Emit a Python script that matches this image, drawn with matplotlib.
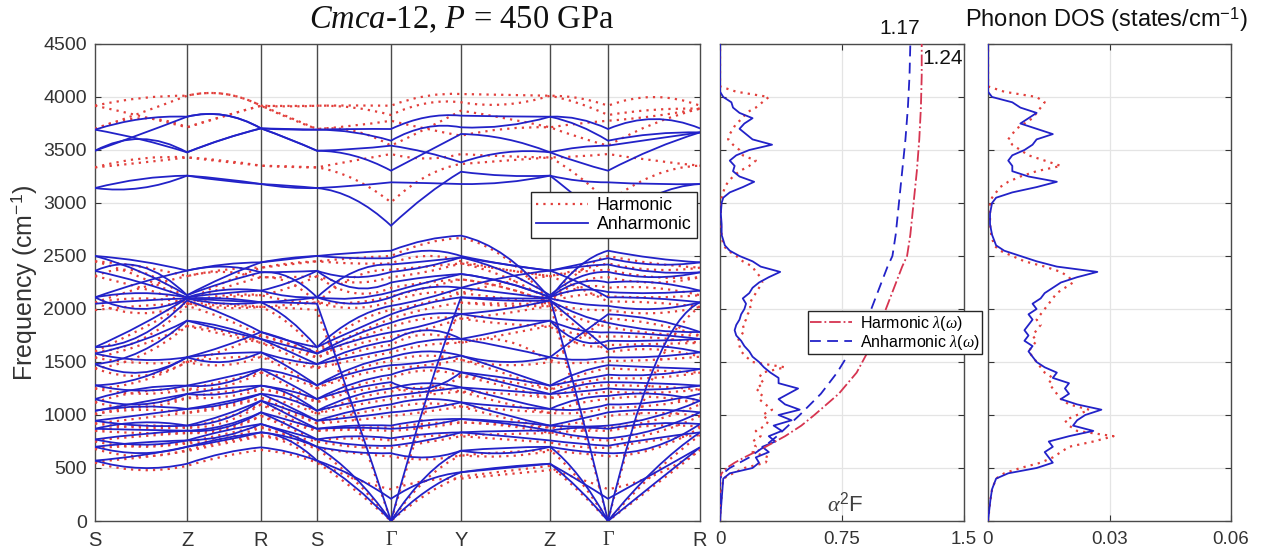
import numpy as np
import matplotlib
matplotlib.use('Agg')
import matplotlib.pyplot as plt
from matplotlib.path import Path
from matplotlib.patches import PathPatch
from matplotlib.lines import Line2D

plt.rcParams['font.family'] = ['Liberation Sans', 'DejaVu Sans']
plt.rcParams['mathtext.fontset'] = 'custom'
plt.rcParams['mathtext.rm'] = 'Liberation Sans'
plt.rcParams['mathtext.sf'] = 'Liberation Sans'
plt.rcParams['mathtext.it'] = 'Liberation Serif:italic'
plt.rcParams['mathtext.bf'] = 'Liberation Sans:bold'

# ---------------- data ----------------
path_labels = ['S', 'Z', 'R', 'S', 'Γ', 'Y', 'Z', 'Γ', 'R']
path_dist = [0, 92, 166, 222, 296, 366, 455, 513, 605]

# band values at [S, mid, Z, mid, R, mid, S, mid, G, mid, Y, mid, Z, mid, G, mid, R]
anh_low = [
    [570, 500, 540, 640, 695, 650, 570, 330, 0, 280, 460, 510, 540, 300, 0, 350, 695],
    [700, 640, 700, 780, 836, 790, 700, 420, 0, 420, 663, 690, 700, 420, 0, 480, 836],
    [2050, 2080, 2100, 2080, 2063, 2060, 2050, 1050, 0, 1150, 2110, 2100, 2100, 1100, 0, 1450, 2063],
    [570, 620, 700, 760, 836, 760, 570, 420, 210, 380, 460, 500, 540, 380, 210, 450, 695],
    [700, 740, 760, 800, 915, 820, 700, 650, 640, 600, 663, 640, 700, 660, 640, 700, 915],
    [770, 720, 760, 850, 915, 840, 770, 720, 710, 760, 836, 800, 760, 730, 710, 780, 836],
    [770, 820, 852, 880, 1025, 900, 770, 800, 780, 820, 836, 850, 852, 800, 780, 860, 1025],
    [870, 860, 852, 900, 1025, 950, 870, 880, 870, 900, 962, 920, 852, 880, 870, 920, 915],
    [870, 930, 900, 960, 1135, 1000, 870, 900, 900, 950, 962, 940, 900, 890, 900, 980, 1135],
    [946, 900, 900, 1000, 1135, 1050, 946, 980, 1025, 1060, 1119, 1000, 900, 960, 1025, 1050, 1025],
    [946, 1000, 1057, 1100, 1200, 1080, 946, 1040, 1100, 1150, 1119, 1080, 1057, 1050, 1100, 1120, 1200],
    [1040, 1080, 1057, 1120, 1200, 1150, 1040, 1120, 1180, 1220, 1260, 1150, 1057, 1150, 1180, 1200, 1135],
    [1040, 1120, 1198, 1200, 1277, 1200, 1040, 1180, 1250, 1300, 1260, 1230, 1198, 1220, 1250, 1240, 1277],
    [1150, 1100, 1198, 1250, 1277, 1230, 1150, 1250, 1310, 1250, 1403, 1300, 1198, 1280, 1310, 1300, 1277],
    [1150, 1250, 1277, 1300, 1434, 1300, 1150, 1300, 1380, 1450, 1403, 1350, 1277, 1330, 1380, 1380, 1434],
    [1280, 1230, 1277, 1350, 1434, 1380, 1280, 1400, 1470, 1500, 1560, 1420, 1277, 1400, 1470, 1450, 1434],
    [1280, 1350, 1545, 1500, 1591, 1450, 1280, 1450, 1545, 1600, 1560, 1500, 1545, 1520, 1545, 1550, 1591],
    [1480, 1400, 1545, 1580, 1591, 1520, 1480, 1550, 1620, 1700, 1717, 1640, 1545, 1750, 1950, 1900, 1783],
    [1480, 1600, 1890, 1800, 1717, 1600, 1480, 1620, 1700, 1800, 1717, 1800, 1890, 1700, 1700, 1700, 1717],
    [1580, 1700, 1890, 1830, 1717, 1650, 1580, 1700, 1780, 1850, 1953, 1900, 1890, 1800, 1780, 1760, 1717],
    [1580, 1520, 1545, 1650, 1783, 1700, 1580, 1750, 1870, 1950, 1953, 2000, 2080, 1950, 1870, 1800, 1783],
    [1640, 1750, 2080, 1950, 1783, 1700, 1640, 1800, 1950, 2050, 2110, 2080, 2080, 1850, 1620, 1650, 1591],
    [1640, 1850, 2100, 2100, 2063, 1900, 1640, 1900, 2030, 2100, 2200, 2150, 2100, 2050, 2030, 2000, 2063],
    [2110, 2000, 2100, 2050, 2063, 2080, 2110, 2050, 2110, 2200, 2200, 2300, 2362, 2250, 2110, 2100, 2063],
    [2110, 2150, 2110, 2150, 2173, 2120, 2110, 2100, 2160, 2250, 2330, 2250, 2110, 2180, 2160, 2150, 2173],
    [2360, 2250, 2110, 2180, 2173, 2250, 2360, 2200, 2250, 2300, 2330, 2250, 2110, 2250, 2250, 2250, 2173],
    [2360, 2400, 2130, 2250, 2346, 2350, 2360, 2300, 2350, 2400, 2487, 2350, 2130, 2300, 2350, 2300, 2346],
    [2110, 2250, 2362, 2400, 2346, 2300, 2110, 2350, 2420, 2450, 2487, 2420, 2362, 2400, 2420, 2350, 2346],
    [2500, 2350, 2130, 2300, 2440, 2470, 2500, 2480, 2480, 2550, 2500, 2420, 2362, 2420, 2480, 2420, 2440],
    [2500, 2450, 2362, 2420, 2440, 2480, 2500, 2530, 2550, 2650, 2692, 2500, 2100, 2400, 2550, 2480, 2440],
]
anh_high = [
    [3141, 3141, 3258, 3226, 3179, 3163, 3141, 3037, 2786, 3069, 3295, 3258, 3258, 3037, 2786, 3069, 3179],
    [3141, 3226, 3258, 3210, 3179, 3147, 3141, 3163, 3195, 3188, 3179, 3195, 3258, 3210, 3195, 3179, 3179],
    [3493, 3650, 3814, 3830, 3704, 3604, 3493, 3446, 3305, 3478, 3651, 3604, 3478, 3383, 3305, 3509, 3666],
    [3493, 3604, 3478, 3604, 3704, 3604, 3493, 3509, 3541, 3478, 3383, 3478, 3478, 3525, 3541, 3604, 3666],
    [3692, 3600, 3478, 3604, 3704, 3698, 3692, 3666, 3588, 3714, 3714, 3729, 3814, 3729, 3588, 3651, 3666],
    [3692, 3792, 3814, 3830, 3704, 3692, 3692, 3698, 3698, 3808, 3824, 3817, 3814, 3792, 3698, 3792, 3704],
]
harm_low = [
    [550, 480, 520, 610, 670, 630, 550, 300, 0, 250, 420, 470, 520, 280, 0, 330, 670],
    [680, 610, 670, 750, 810, 760, 680, 390, 0, 390, 620, 650, 670, 390, 0, 450, 810],
    [1990, 2030, 2050, 2030, 2020, 2010, 1990, 1000, 0, 1080, 2060, 2050, 2050, 1050, 0, 1380, 2020],
    [560, 600, 660, 730, 800, 730, 560, 400, 300, 380, 400, 440, 480, 400, 300, 430, 670],
    [690, 710, 730, 780, 880, 800, 690, 640, 610, 580, 620, 610, 660, 640, 610, 680, 880],
    [750, 700, 740, 820, 890, 810, 750, 700, 690, 740, 800, 770, 740, 700, 690, 760, 810],
    [760, 800, 830, 860, 990, 880, 760, 780, 760, 800, 810, 820, 830, 780, 760, 830, 990],
    [850, 830, 830, 880, 990, 920, 850, 860, 850, 880, 930, 900, 830, 850, 850, 900, 890],
    [850, 900, 880, 930, 1100, 970, 850, 880, 880, 920, 930, 910, 880, 870, 880, 950, 1100],
    [920, 880, 880, 970, 1100, 1020, 920, 950, 990, 1030, 1080, 970, 880, 930, 990, 1020, 990],
    [920, 970, 1020, 1070, 1160, 1050, 920, 1010, 1070, 1110, 1080, 1050, 1020, 1020, 1070, 1090, 1160],
    [1010, 1050, 1020, 1090, 1160, 1110, 1010, 1090, 1150, 1190, 1220, 1110, 1020, 1110, 1150, 1170, 1100],
    [1010, 1090, 1160, 1170, 1240, 1170, 1010, 1150, 1220, 1260, 1220, 1200, 1160, 1190, 1220, 1210, 1240],
    [1120, 1070, 1160, 1220, 1240, 1200, 1120, 1220, 1280, 1220, 1370, 1270, 1160, 1250, 1280, 1270, 1240],
    [1120, 1220, 1240, 1270, 1400, 1270, 1120, 1270, 1350, 1420, 1370, 1320, 1240, 1300, 1350, 1350, 1400],
    [1250, 1200, 1240, 1320, 1400, 1350, 1250, 1370, 1440, 1470, 1520, 1390, 1240, 1370, 1440, 1420, 1400],
    [1250, 1320, 1500, 1470, 1550, 1420, 1250, 1420, 1510, 1560, 1520, 1470, 1500, 1490, 1510, 1520, 1550],
    [1440, 1370, 1500, 1540, 1550, 1490, 1440, 1520, 1590, 1660, 1680, 1700, 1500, 1720, 1910, 1860, 1750],
    [1440, 1560, 1840, 1760, 1680, 1570, 1440, 1590, 1660, 1760, 1680, 1760, 1840, 1670, 1660, 1670, 1680],
    [1540, 1660, 1840, 1790, 1680, 1620, 1540, 1660, 1740, 1810, 1910, 1860, 1840, 1760, 1740, 1730, 1680],
    [1540, 1490, 1500, 1610, 1750, 1670, 1540, 1710, 1830, 1910, 1910, 1960, 2030, 1910, 1830, 1770, 1750],
    [1600, 1710, 2030, 1910, 1750, 1670, 1600, 1760, 1910, 2000, 2060, 2030, 2030, 1810, 1590, 1620, 1550],
    [1600, 1810, 2050, 2050, 2020, 1860, 1600, 1860, 1990, 2060, 2150, 2100, 2050, 2000, 1990, 1960, 2020],
    [2060, 1960, 2050, 2010, 2020, 2040, 2060, 2010, 2070, 2150, 2150, 2250, 2310, 2200, 2070, 2060, 2020],
    [2060, 2100, 2060, 2110, 2130, 2080, 2060, 2060, 2120, 2200, 2280, 2200, 2060, 2130, 2120, 2110, 2130],
    [2310, 2200, 2060, 2130, 2130, 2200, 2310, 2150, 2200, 2250, 2280, 2200, 2060, 2200, 2200, 2200, 2130],
    [2310, 2350, 2080, 2200, 2300, 2300, 2310, 2250, 2300, 2350, 2430, 2300, 2080, 2250, 2300, 2250, 2300],
    [2060, 2200, 2310, 2350, 2300, 2250, 2060, 2300, 2370, 2400, 2430, 2370, 2310, 2350, 2370, 2300, 2300],
    [2450, 2300, 2080, 2250, 2390, 2420, 2450, 2430, 2430, 2500, 2450, 2370, 2310, 2370, 2430, 2370, 2390],
    [2450, 2400, 2310, 2370, 2390, 2430, 2450, 2480, 2500, 2620, 2670, 2480, 2060, 2350, 2500, 2430, 2390],
]
harm_high = [
    [3336, 3380, 3430, 3400, 3352, 3345, 3336, 3226, 3006, 3250, 3368, 3400, 3430, 3250, 3006, 3260, 3352],
    [3336, 3420, 3430, 3390, 3352, 3340, 3336, 3400, 3462, 3420, 3462, 3440, 3430, 3440, 3462, 3400, 3352],
    [3698, 3850, 4012, 4030, 3918, 3800, 3698, 3680, 3541, 3700, 3871, 3800, 3714, 3620, 3541, 3750, 3890],
    [3698, 3800, 3714, 3820, 3918, 3810, 3698, 3730, 3776, 3700, 3635, 3700, 3714, 3750, 3776, 3820, 3890],
    [3918, 3820, 3714, 3820, 3918, 3915, 3918, 3900, 3830, 3940, 3950, 3930, 4012, 3940, 3830, 3880, 3890],
    [3918, 3990, 4012, 4030, 3918, 3910, 3918, 3920, 3918, 4010, 4028, 4020, 4012, 3990, 3918, 4000, 3918],
]

# Eliashberg function / DOS (frequency grid in cm^-1)
freq = [0, 100, 200, 300, 400, 450, 500, 550, 600, 650, 700, 750, 800, 850, 900, 950,
        1000, 1050, 1100, 1150, 1200, 1250, 1300, 1350, 1400, 1450, 1500, 1550, 1600,
        1650, 1700, 1750, 1800, 1850, 1900, 1950, 2000, 2050, 2100, 2150, 2200, 2250,
        2300, 2350, 2400, 2450, 2500, 2550, 2600, 2700, 2800, 2900, 3000, 3050, 3100,
        3150, 3200, 3250, 3300, 3350, 3400, 3450, 3500, 3550, 3600, 3650, 3700, 3750,
        3800, 3850, 3900, 3950, 4000, 4050, 4100, 4500]
a2f_anh = [0, 0.005, 0.01, 0.015, 0.02, 0.06, 0.2, 0.24, 0.22, 0.3, 0.26, 0.34, 0.3, 0.38,
           0.33, 0.44, 0.36, 0.49, 0.4, 0.36, 0.42, 0.48, 0.36, 0.36, 0.31, 0.27, 0.24, 0.2,
           0.18, 0.15, 0.13, 0.1, 0.09, 0.1, 0.12, 0.13, 0.15, 0.16, 0.14, 0.18, 0.2, 0.24,
           0.3, 0.37, 0.25, 0.2, 0.12, 0.06, 0.03, 0.01, 0.01, 0.005, 0.01, 0.02, 0.06, 0.14,
           0.21, 0.12, 0.08, 0.09, 0.06, 0.1, 0.18, 0.32, 0.2, 0.16, 0.12, 0.15, 0.2, 0.12,
           0.08, 0.07, 0.02, 0.0, 0.0, 0.0]
a2f_harm = [0, 0.003, 0.008, 0.012, 0.02, 0.08, 0.15, 0.28, 0.3, 0.2, 0.22, 0.2, 0.25, 0.22,
            0.28, 0.3, 0.26, 0.32, 0.28, 0.24, 0.26, 0.22, 0.27, 0.24, 0.26, 0.4, 0.2, 0.16,
            0.13, 0.12, 0.11, 0.13, 0.15, 0.14, 0.16, 0.17, 0.19, 0.18, 0.2, 0.22, 0.24, 0.26,
            0.25, 0.22, 0.2, 0.14, 0.1, 0.05, 0.02, 0.01, 0.005, 0.005, 0.005, 0.01, 0.02, 0.03,
            0.05, 0.08, 0.12, 0.18, 0.22, 0.14, 0.12, 0.08, 0.05, 0.06, 0.08, 0.1, 0.14, 0.16,
            0.22, 0.26, 0.3, 0.1, 0.0, 0.0]
dos_anh = [0, 0.0003, 0.0006, 0.001, 0.002, 0.005, 0.012, 0.016, 0.015, 0.014, 0.016, 0.015,
           0.02, 0.026, 0.021, 0.022, 0.024, 0.028, 0.022, 0.018, 0.02, 0.019, 0.02, 0.016,
           0.017, 0.014, 0.012, 0.011, 0.01, 0.011, 0.009, 0.01, 0.009, 0.01, 0.011, 0.01,
           0.012, 0.011, 0.013, 0.014, 0.016, 0.018, 0.022, 0.027, 0.017, 0.012, 0.008, 0.004,
           0.002, 0.001, 0.0005, 0.0005, 0.001, 0.002, 0.006, 0.012, 0.017, 0.01, 0.006, 0.006,
           0.005, 0.006, 0.009, 0.011, 0.012, 0.016, 0.012, 0.008, 0.01, 0.012, 0.008, 0.006,
           0.001, 0.0, 0.0, 0.0]
dos_harm = [0, 0.0003, 0.0006, 0.001, 0.002, 0.004, 0.008, 0.013, 0.016, 0.018, 0.02, 0.026,
            0.031, 0.022, 0.02, 0.019, 0.022, 0.025, 0.02, 0.018, 0.017, 0.016, 0.015, 0.016,
            0.014, 0.013, 0.012, 0.011, 0.01, 0.011, 0.012, 0.011, 0.012, 0.013, 0.012, 0.013,
            0.014, 0.015, 0.016, 0.017, 0.019, 0.021, 0.02, 0.018, 0.014, 0.009, 0.006, 0.003,
            0.0015, 0.0008, 0.0005, 0.0005, 0.0005, 0.001, 0.002, 0.003, 0.005, 0.008, 0.012,
            0.018, 0.014, 0.01, 0.008, 0.006, 0.005, 0.006, 0.007, 0.009, 0.011, 0.012, 0.013,
            0.014, 0.012, 0.004, 0.0, 0.0]

# cumulative coupling lambda(omega)
lam_freq = [0, 400, 450, 500, 550, 600, 700, 800, 900, 1000, 1200, 1400, 1600, 1800, 2000,
            2200, 2400, 2500, 2700, 3000, 3300, 3600, 3900, 4200, 4500]
lam_anh = [0, 0, 0.02, 0.06, 0.12, 0.18, 0.27, 0.35, 0.42, 0.49, 0.62, 0.72, 0.80, 0.87, 0.93,
           0.98, 1.03, 1.06, 1.08, 1.10, 1.12, 1.14, 1.155, 1.165, 1.17]
lam_harm = [0, 0, 0.01, 0.04, 0.09, 0.15, 0.28, 0.40, 0.50, 0.58, 0.73, 0.84, 0.91, 0.97, 1.02,
            1.07, 1.12, 1.15, 1.17, 1.19, 1.21, 1.225, 1.235, 1.24, 1.24]

# ---------------- style ----------------
BLUE = '#2222c8'
RED = '#e2403c'
CRIMSON = '#d63450'
AXC = '#333333'
GRID = '#e4e4e4'
DOT = (0, (1, 2.3))

fig = plt.figure(figsize=(12.62, 5.56), dpi=100)
Y0, H = 1 - 521 / 556, (521 - 44) / 556
ax = fig.add_axes([95 / 1262, Y0, 605 / 1262, H])
ax2 = fig.add_axes([720 / 1262, Y0, 244 / 1262, H])
ax3 = fig.add_axes([988 / 1262, Y0, 243 / 1262, H])

# k positions of high-symmetry points and segment midpoints
kx = []
for i in range(len(path_dist) - 1):
    kx += [path_dist[i], 0.5 * (path_dist[i] + path_dist[i + 1])]
kx.append(path_dist[-1])


def band_path(vals):
    verts = [(kx[0], vals[0])]
    codes = [Path.MOVETO]
    for s in range(len(path_dist) - 1):
        x0, y0 = kx[2 * s], vals[2 * s]
        xm, ym = kx[2 * s + 1], vals[2 * s + 1]
        x1, y1 = kx[2 * s + 2], vals[2 * s + 2]
        verts += [(2 * xm - 0.5 * (x0 + x1), 2 * ym - 0.5 * (y0 + y1)), (x1, y1)]
        codes += [Path.CURVE3, Path.CURVE3]
    return Path(verts, codes)


for b in harm_low + harm_high:
    ax.add_patch(PathPatch(band_path(b), fill=False, edgecolor=RED, lw=1.6,
                           linestyle=DOT, zorder=3))
for b in anh_low + anh_high:
    ax.add_patch(PathPatch(band_path(b), fill=False, edgecolor=BLUE, lw=1.3, zorder=4))

for x in path_dist[1:-1]:
    ax.axvline(x, color='#4a4a4a', lw=1.0, zorder=2)

ax.set_xlim(path_dist[0], path_dist[-1])
ax.set_ylim(0, 4500)
ax.set_yticks(np.arange(0, 4501, 500))
ax.yaxis.grid(True, color=GRID, lw=0.9, zorder=0)
ax.set_axisbelow(True)
ax.set_xticks(path_dist)
ax.set_xticklabels(path_labels)
for lab in ax.get_xticklabels():
    if lab.get_text() == 'Γ':
        lab.set_fontfamily('Liberation Serif')
ax.tick_params(axis='x', length=0, pad=7, labelsize=14.5, colors=AXC)
ax.tick_params(axis='y', direction='in', length=4, right=True, labelsize=14, colors=AXC, pad=6)
ax.set_ylabel('Frequency (cm$^{-1}$)', fontsize=18, color=AXC, labelpad=3)

handles = [Line2D([], [], color=RED, lw=1.6, linestyle=DOT),
           Line2D([], [], color=BLUE, lw=1.3)]
leg = ax.legend(handles, ['Harmonic', 'Anharmonic'], loc='upper right',
                bbox_to_anchor=(0.995, 0.69), fontsize=12.8, fancybox=False,
                framealpha=1, edgecolor='#262626', borderpad=0.3, labelspacing=0.1,
                handlelength=2.9, handletextpad=0.5, borderaxespad=0)
leg.get_frame().set_linewidth(1.0)
leg.set_zorder(10)

# middle panel
ax2.plot(a2f_harm, freq, color=RED, lw=1.6, linestyle=DOT, zorder=3)
ax2.plot(a2f_anh, freq, color=BLUE, lw=1.3, zorder=4)
l1, = ax2.plot(lam_harm, lam_freq, color=CRIMSON, lw=1.3, linestyle='-.', zorder=4)
l2, = ax2.plot(lam_anh, lam_freq, color=BLUE, lw=1.3, linestyle=(0, (6, 3.5)), zorder=4)
ax2.set_xlim(0, 1.5)
ax2.set_ylim(0, 4500)
ax2.set_xticks([0, 0.75, 1.5])
ax2.set_xticklabels(['0', '0.75', '1.5'])
ax2.set_yticks(np.arange(0, 4501, 500))
ax2.set_yticklabels([])
ax2.grid(True, color=GRID, lw=0.9)
ax2.set_axisbelow(True)
ax2.tick_params(direction='in', length=4, top=True, right=True, labelsize=13.5,
                colors=AXC, pad=7)
ax2.text(0.77, 160, r'$\alpha^{\mathsf{2}}$F', fontsize=16, ha='center', va='center',
         color='#404040')
ax2.text(1.107, 4650, '1.17', fontsize=15, ha='center', va='center', color='#111111',
         clip_on=False)
ax2.text(1.37, 4360, '1.24', fontsize=15, ha='center', va='center', color='#111111')
leg2 = ax2.legend([l1, l2], [r'Harmonic $\lambda(\omega)$', r'Anharmonic $\lambda(\omega)$'],
                  loc='upper left', bbox_to_anchor=(0.36, 0.44), fontsize=11.5,
                  fancybox=False, framealpha=1, edgecolor='#262626', borderpad=0.15,
                  labelspacing=0.0, handlelength=2.6, handletextpad=0.5, borderaxespad=0)
leg2.get_frame().set_linewidth(1.0)
leg2.set_zorder(10)

# right panel
ax3.plot(dos_harm, freq, color=RED, lw=1.6, linestyle=DOT, zorder=3)
ax3.plot(dos_anh, freq, color=BLUE, lw=1.3, zorder=4)
ax3.set_xlim(0, 0.06)
ax3.set_ylim(0, 4500)
ax3.set_xticks([0, 0.03, 0.06])
ax3.set_xticklabels(['0', '0.03', '0.06'])
ax3.set_yticks(np.arange(0, 4501, 500))
ax3.set_yticklabels([])
ax3.grid(True, color=GRID, lw=0.9)
ax3.set_axisbelow(True)
ax3.tick_params(direction='in', length=4, top=True, right=True, labelsize=13.5,
                colors=AXC, pad=7)

for a in (ax, ax2, ax3):
    for sp in a.spines.values():
        sp.set_color('#4a4a4a')
        sp.set_linewidth(1.0)

fig.text(462 / 1262, 1 - 20 / 556, r'$Cmca$-12, $P$ = 450 GPa', fontsize=23.5,
         fontfamily='Liberation Serif', ha='center', va='center', color='#111111')
fig.text(1106 / 1262, 1 - 20 / 556, 'Phonon DOS (states/cm$^{-1}$)', fontsize=17,
         ha='center', va='center', color='#111111')

fig.savefig('out.png', dpi=100)
